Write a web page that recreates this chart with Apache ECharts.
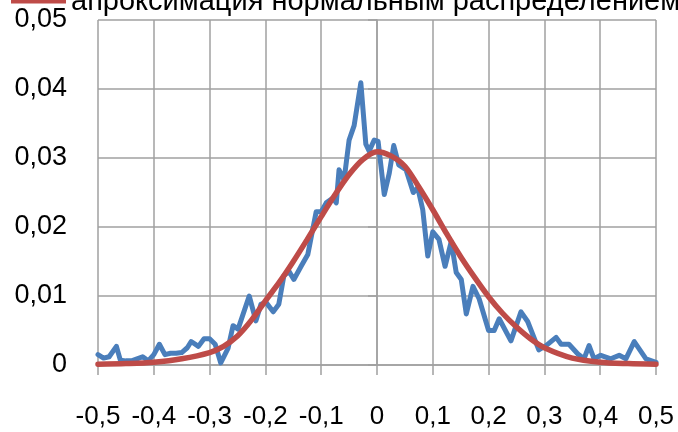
<!DOCTYPE html>
<html><head><meta charset="utf-8">
<script src="https://cdn.jsdelivr.net/npm/echarts@6/dist/echarts.min.js"></script>
<style>html,body{margin:0;padding:0;background:#fff;overflow:hidden}#c{width:678px;height:432px}</style>
</head><body><div id="c"></div>
<script>
// empirical distribution (blue)
const empX = [-0.500,-0.490,-0.480,-0.467,-0.460,-0.450,-0.440,-0.430,-0.420,-0.410,-0.400,-0.390,-0.380,-0.370,-0.360,-0.350,-0.340,-0.333,-0.320,-0.310,-0.300,-0.290,-0.280,-0.267,-0.258,-0.249,-0.229,-0.217,-0.208,-0.199,-0.186,-0.176,-0.167,-0.158,-0.149,-0.136,-0.124,-0.109,-0.100,-0.091,-0.079,-0.073,-0.068,-0.059,-0.050,-0.041,-0.029,-0.020,-0.014,-0.005,0.002,0.013,0.022,0.030,0.039,0.052,0.065,0.073,0.082,0.091,0.100,0.111,0.122,0.133,0.142,0.151,0.160,0.172,0.183,0.200,0.210,0.219,0.240,0.258,0.270,0.290,0.303,0.321,0.330,0.344,0.360,0.371,0.380,0.389,0.401,0.419,0.434,0.446,0.461,0.482,0.500];
const empY = [0.0015,0.0010,0.0012,0.0027,0.0007,0.0006,0.0006,0.0009,0.0012,0.0006,0.0015,0.0030,0.0015,0.0017,0.0017,0.0018,0.0025,0.0034,0.0027,0.0038,0.0038,0.0030,0.0003,0.0024,0.0057,0.0052,0.0100,0.0064,0.0088,0.0091,0.0077,0.0088,0.0129,0.0136,0.0124,0.0143,0.0160,0.0222,0.0222,0.0235,0.0242,0.0235,0.0283,0.0268,0.0326,0.0347,0.0409,0.0320,0.0310,0.0326,0.0324,0.0247,0.0278,0.0318,0.0290,0.0283,0.0250,0.0257,0.0225,0.0158,0.0193,0.0182,0.0143,0.0179,0.0134,0.0124,0.0074,0.0114,0.0096,0.0050,0.0050,0.0067,0.0035,0.0077,0.0063,0.0022,0.0028,0.0040,0.0030,0.0030,0.0016,0.0009,0.0028,0.0009,0.0014,0.0009,0.0014,0.0009,0.0034,0.0009,0.0004];
// normal approximation (red)
const fitX = [-0.50,-0.45,-0.40,-0.35,-0.30,-0.275,-0.25,-0.225,-0.20,-0.175,-0.15,-0.125,-0.10,-0.075,-0.05,-0.025,0.00,0.025,0.05,0.075,0.10,0.125,0.15,0.175,0.20,0.225,0.25,0.275,0.30,0.35,0.40,0.45,0.50];
const fitY = [0.0001,0.0002,0.0004,0.0009,0.0018,0.0027,0.0042,0.0065,0.0093,0.0120,0.0150,0.0182,0.0215,0.0247,0.0276,0.0298,0.0309,0.0303,0.0288,0.0258,0.0225,0.0190,0.0157,0.0127,0.0099,0.0075,0.0055,0.0038,0.0025,0.0010,0.0004,0.0002,0.0001];
const xTickLabels = ['-0,5','-0,4','-0,3','-0,2','-0,1','0','0,1','0,2','0,3','0,4','0,5'];
const yTickLabels = ['0','0,01','0,02','0,03','0,04','0,05'];
const seriesNames = ['эмпирическое распределение','апроксимация нормальным распределением'];

const chart = echarts.init(document.getElementById('c'), null, {renderer:'canvas'});
const FONT = 'Liberation Sans';
const gridColor = '#a0a0a0';
chart.setOption({
  animation:false,
  backgroundColor:'#fff',
  textStyle:{fontFamily:FONT},
  legend:{
    data:[seriesNames[1]],
    left:6, top:-18,
    itemWidth:55, itemHeight:4, itemGap:4,
    icon:'rect',
    textStyle:{fontSize:29, color:'#000', fontFamily:FONT}
  },
  grid:{left:98, right:22, top:20, bottom:67, containLabel:false},
  xAxis:{
    type:'value', min:-0.5, max:0.5, interval:0.1,
    axisLine:{show:true, onZero:false, lineStyle:{color:gridColor, width:1.5}},
    axisTick:{show:true, length:10, lineStyle:{color:gridColor, width:1.5}},
    splitLine:{show:true, lineStyle:{color:gridColor, width:1.5}},
    axisLabel:{margin:39, fontSize:26, color:'#000', fontFamily:FONT,
      formatter:v=>xTickLabels[Math.round((v+0.5)*10)]}
  },
  yAxis:{
    type:'value', min:0, max:0.05, interval:0.01,
    axisLine:{show:true, lineStyle:{color:gridColor, width:1.5}},
    axisTick:{show:true, length:9, lineStyle:{color:gridColor, width:1.5}},
    splitLine:{show:true, lineStyle:{color:gridColor, width:1.5}},
    axisLabel:{margin:31, fontSize:27, color:'#000', fontFamily:FONT,
      formatter:v=>yTickLabels[Math.round(v*100)]}
  },
  series:[
    {name:seriesNames[0], type:'line', data:empX.map((x,i)=>[x,empY[i]]),
     showSymbol:false, lineStyle:{color:'#4a7ebb', width:5, join:'round', cap:'round'}, itemStyle:{color:'#4a7ebb'}, z:2},
    {name:seriesNames[1], type:'line', data:fitX.map((x,i)=>[x,fitY[i]]), smooth:0.3,
     showSymbol:false, lineStyle:{color:'#be4b48', width:5.5, cap:'round'}, itemStyle:{color:'#be4b48'}, z:3}
  ]
});
</script>
</body></html>
